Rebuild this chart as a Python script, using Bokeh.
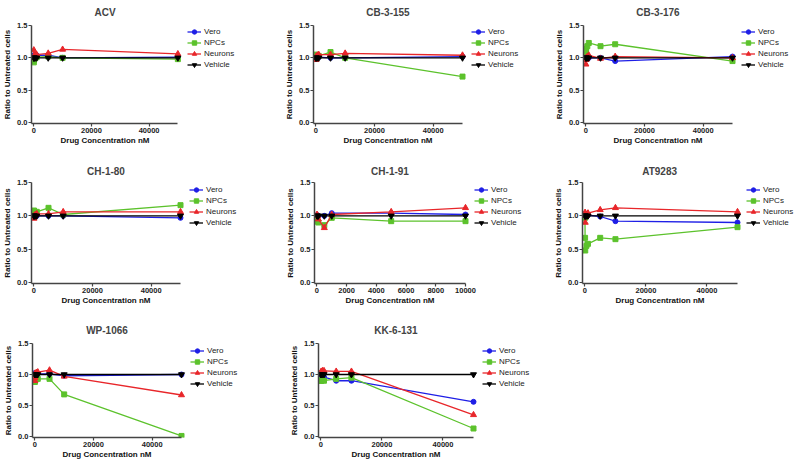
from bokeh.plotting import figure
from bokeh.layouts import column, row
from bokeh.models import Range1d, Legend, LegendItem, FixedTicker, NumeralTickFormatter, Spacer, Title
from bokeh.embed import file_html
from bokeh.resources import INLINE

# ---------------- data ----------------
series_names = ["Vero", "NPCs", "Neurons", "Vehicle"]
conc = [10, 50, 100, 500, 1000, 5000, 10000, 50000]
conc_ch191 = [10, 50, 100, 500, 1000, 5000, 10000]

acv_vero = [1.02, 1.03, 1.04, 1.04, 1.04, 1.04, 1.00, 1.01]
acv_npcs = [0.93, 0.96, 0.98, 1.00, 1.01, 1.02, 1.00, 0.98]
acv_neurons = [1.12, 1.00, 1.03, 1.04, 1.05, 1.07, 1.13, 1.06]
acv_vehicle = [1.00, 1.00, 1.00, 1.00, 1.00, 1.00, 1.00, 1.00]

cb155_vero = [1.00, 1.00, 1.00, 1.00, 1.01, 1.00, 1.00, 1.02]
cb155_npcs = [1.05, 1.04, 1.03, 1.02, 1.03, 1.09, 1.00, 0.71]
cb155_neurons = [0.97, 1.00, 1.02, 1.04, 1.05, 1.05, 1.07, 1.04]
cb155_vehicle = [1.00, 1.00, 1.00, 1.00, 1.00, 1.00, 1.00, 1.00]

cb176_vero = [1.00, 1.00, 1.01, 1.00, 1.00, 1.00, 0.95, 1.02]
cb176_npcs = [1.09, 1.12, 1.14, 1.18, 1.23, 1.18, 1.21, 0.95]
cb176_neurons = [0.90, 0.97, 1.00, 1.02, 1.04, 0.99, 1.02, 1.00]
cb176_vehicle = [1.00, 1.00, 1.00, 1.00, 1.00, 1.00, 1.00, 1.00]

ch180_vero = [0.98, 0.99, 1.00, 1.00, 1.00, 1.00, 1.00, 0.97]
ch180_npcs = [1.05, 1.08, 1.07, 1.05, 1.06, 1.12, 1.02, 1.16]
ch180_neurons = [0.96, 0.98, 1.00, 1.02, 1.03, 1.03, 1.06, 1.06]
ch180_vehicle = [1.00, 1.00, 1.00, 1.00, 1.00, 1.00, 1.00, 1.00]

ch191_vero = [1.01, 1.00, 1.00, 1.00, 1.04, 1.04, 1.02]
ch191_npcs = [0.96, 0.92, 0.90, 0.86, 0.97, 0.92, 0.92]
ch191_neurons = [1.02, 1.00, 0.95, 0.82, 1.02, 1.06, 1.12]
ch191_vehicle = [1.00, 1.00, 1.00, 1.00, 1.00, 1.00, 1.00]

at_vero = [1.00, 1.02, 1.03, 1.02, 1.01, 0.99, 0.92, 0.90]
at_npcs = [0.97, 0.67, 0.48, 0.55, 0.58, 0.67, 0.65, 0.83]
at_neurons = [1.00, 1.05, 0.90, 1.00, 1.04, 1.09, 1.12, 1.06]
at_vehicle = [1.00, 1.00, 1.00, 1.00, 1.00, 1.00, 1.00, 1.00]

wp_vero = [1.02, 1.02, 1.02, 1.02, 1.01, 1.01, 0.98, 1.00]
wp_npcs = [0.88, 0.90, 0.92, 0.93, 0.93, 0.93, 0.68, 0.01]
wp_neurons = [0.90, 0.95, 1.02, 1.03, 1.04, 1.07, 0.97, 0.67]
wp_vehicle = [1.00, 1.00, 1.00, 1.00, 1.00, 1.00, 1.00, 1.00]

kk_vero = [0.99, 0.98, 0.97, 0.95, 0.96, 0.90, 0.90, 0.56]
kk_npcs = [0.90, 0.90, 0.91, 0.91, 0.90, 0.93, 0.95, 0.13]
kk_neurons = [1.02, 1.04, 1.05, 1.06, 1.06, 1.05, 1.05, 0.35]
kk_vehicle = [1.00, 1.00, 1.00, 1.00, 1.00, 1.00, 1.00, 1.00]

x_ticks_50k = [0, 20000, 40000]
x_ticks_10k = [0, 2000, 4000, 6000, 8000, 10000]
y_ticks = [0, 0.5, 1.0, 1.5]
x_label = "Drug Concentration nM"
y_label = "Ratio to Untreated cells"

# ---------------- style ----------------
COLORS = {"Vero": "#1f1fe6", "NPCs": "#5cc22c", "Neurons": "#e8262a", "Vehicle": "#000000"}
MARKERS = {"Vero": ("circle", 5), "NPCs": ("square", 5), "Neurons": ("triangle", 6),
           "Vehicle": ("inverted_triangle", 6)}
FONT = "Liberation Sans"

# approximate bold Arial/Liberation advance widths (per 1000 em) used to centre texts
_W = {"A": 722, "B": 722, "C": 722, "D": 722, "H": 722, "K": 722, "P": 667, "T": 611, "V": 667,
      "W": 944, "M": 833, "-": 333, " ": 278, "r": 389, "u": 611, "g": 611, "o": 611, "n": 611,
      "c": 556, "e": 556, "t": 333, "a": 556, "i": 278}


def text_w(s, size):
    return sum(_W.get(ch, 556) for ch in s) / 1000.0 * size


def make_panel(title, x, data, xmax, xticks, left, fw, extra, top, fh, bottom, tstand):
    """fw = width of the data area; extra = room kept right of it for the legend."""
    xstart = -xmax * 0.016
    xend = xmax + (xmax - xstart) * extra / fw
    p = figure(width=left + fw + extra, height=top + fh + bottom,
               output_backend="svg", toolbar_location=None,
               min_border_left=left, min_border_right=0,
               min_border_top=top, min_border_bottom=bottom,
               x_range=Range1d(xstart, xend), y_range=Range1d(-0.015, 1.5))
    p.outline_line_color = None
    p.xgrid.visible = False
    p.ygrid.visible = False

    t = Title(text=title, align="left", offset=fw / 2 - text_w(title, 10) / 2,
              text_font=FONT, text_font_size="10px", text_font_style="bold",
              vertical_align="top", standoff=tstand)
    p.add_layout(t, "above")

    items = []
    for name, vals in zip(series_names, data):
        c = COLORS[name]
        m, s = MARKERS[name]
        ln = p.line(x, vals, line_color=c, line_width=1.3)
        sc = p.scatter(x, vals, marker=m, size=s, fill_color=c, line_color=c)
        items.append(LegendItem(label=name, renderers=[ln, sc]))

    leg = Legend(items=items, location=(fw + 9, fh - 46))
    leg.border_line_color = None
    leg.background_fill_alpha = 0
    leg.margin = 0
    leg.padding = 0
    leg.spacing = 0
    leg.label_height = 11
    leg.glyph_height = 11
    leg.glyph_width = 14
    leg.label_standoff = 3
    leg.label_text_font = FONT
    leg.label_text_font_size = "8px"
    leg.label_text_color = "#222222"
    p.add_layout(leg)

    for ax in (p.xaxis[0], p.yaxis[0]):
        ax.axis_line_color = "#444444"
        ax.axis_line_width = 1.5
        ax.major_tick_line_color = "#444444"
        ax.major_tick_line_width = 1.2
        ax.major_tick_out = 3
        ax.major_tick_in = 0
        ax.minor_tick_line_color = None
        ax.major_label_text_font = FONT
        ax.major_label_text_font_size = "7.5px"
        ax.major_label_text_font_style = "bold"
        ax.major_label_text_color = "#222222"
        ax.major_label_standoff = 1
        ax.axis_label_text_font = FONT
        ax.axis_label_text_font_size = "8px"
        ax.axis_label_text_font_style = "bold"
        ax.axis_label_text_color = "#111111"
        ax.axis_label_standoff = 2

    p.xaxis.bounds = (xstart, xmax)
    p.yaxis.axis_label = y_label
    p.xaxis.ticker = FixedTicker(ticks=xticks)
    p.yaxis.ticker = FixedTicker(ticks=y_ticks)
    p.xaxis.formatter = NumeralTickFormatter(format="0")
    p.yaxis.formatter = NumeralTickFormatter(format="0.0")

    xl = Title(text=x_label, align="left", offset=fw / 2 - text_w(x_label, 8) / 2,
               text_font=FONT, text_font_size="8px", text_font_style="bold",
               text_color="#111111", vertical_align="top", standoff=0)
    p.add_layout(xl, "below")
    return p


# row 1
p1 = make_panel("ACV", conc, [acv_vero, acv_npcs, acv_neurons, acv_vehicle], 50000, x_ticks_50k,
                30, 147, 88, 24, 99, 35, 12)
p2 = make_panel("CB-3-155", conc, [cb155_vero, cb155_npcs, cb155_neurons, cb155_vehicle], 50000, x_ticks_50k,
                48, 149, 68, 24, 99, 35, 12)
p3 = make_panel("CB-3-176", conc, [cb176_vero, cb176_npcs, cb176_neurons, cb176_vehicle], 50000, x_ticks_50k,
                53, 149, 68, 24, 99, 35, 12)
# row 2
p4 = make_panel("CH-1-80", conc, [ch180_vero, ch180_npcs, ch180_neurons, ch180_vehicle], 50000, x_ticks_50k,
                31, 149, 85, 24, 101, 27, 8)
p5 = make_panel("CH-1-91", conc_ch191, [ch191_vero, ch191_npcs, ch191_neurons, ch191_vehicle], 10000, x_ticks_10k,
                49, 151, 65, 24, 101, 27, 8)
p6 = make_panel("AT9283", conc, [at_vero, at_npcs, at_neurons, at_vehicle], 50000, x_ticks_50k,
                52, 155, 63, 24, 101, 27, 8)
# row 3
p7 = make_panel("WP-1066", conc, [wp_vero, wp_npcs, wp_neurons, wp_vehicle], 50000, x_ticks_50k,
                32, 149, 84, 33, 94, 27, 12)
p8 = make_panel("KK-6-131", conc, [kk_vero, kk_npcs, kk_neurons, kk_vehicle], 50000, x_ticks_50k,
                53, 155, 57, 33, 94, 27, 12)
sp = Spacer(width=270, height=154)

layout = column(row(p1, p2, p3), row(p4, p5, p6), row(p7, p8, sp))

with open("out.html", "w") as f:
    f.write(file_html(layout, INLINE))
